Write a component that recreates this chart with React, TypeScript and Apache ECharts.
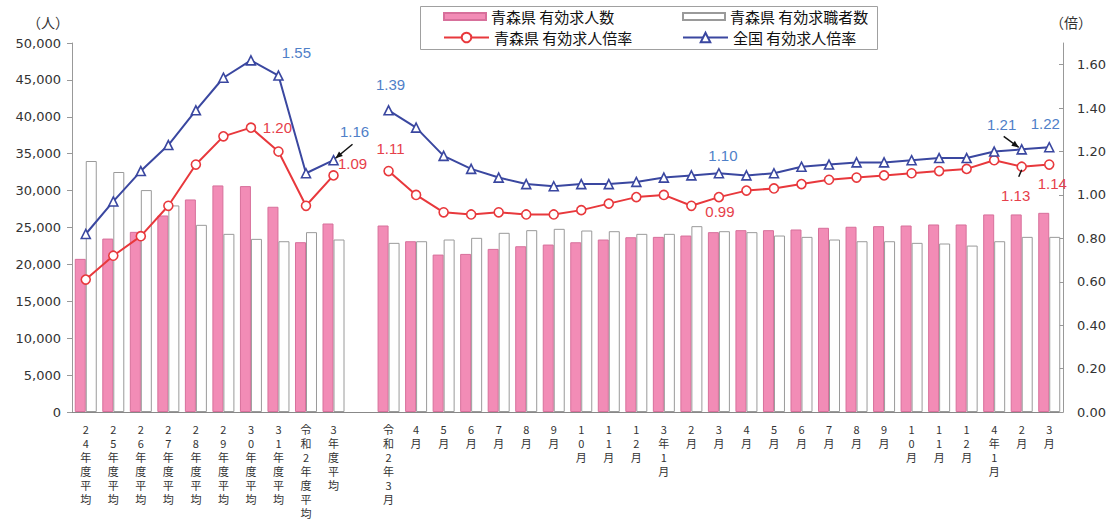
import React, { useEffect, useRef } from "react";
import * as echarts from "echarts";

// ---- data ----
const categories = [
  "24年度平均", "25年度平均", "26年度平均", "27年度平均", "28年度平均",
  "29年度平均", "30年度平均", "31年度平均", "令和2年度平均", "3年度平均",
  "",
  "令和2年3月", "4月", "5月", "6月", "7月", "8月", "9月", "10月", "11月", "12月",
  "3年1月", "2月", "3月", "4月", "5月", "6月", "7月", "8月", "9月", "10月", "11月", "12月",
  "4年1月", "2月", "3月",
];

// 青森県 有効求人数 (人)
const jobOffers = [
  20750, 23500, 24410, 26630, 28800, 30700, 30610, 27810, 23010, 25540,
  null,
  25270, 23140, 21330, 21420, 22100, 22460, 22690, 23000, 23370, 23680,
  23730, 23910, 24370, 24640, 24640, 24730, 24960, 25100, 25180, 25270, 25410, 25410,
  26770, 26770, 26990,
];

// 青森県 有効求職者数 (人)
const jobSeekers = [
  34010, 32520, 30070, 27990, 25360, 24140, 23460, 23140, 24370, 23370,
  null,
  22920, 23140, 23370, 23600, 24280, 24640, 24820, 24590, 24500, 24140,
  24140, 25180, 24500, 24370, 23910, 23730, 23370, 23140, 23140, 22920, 22830, 22550,
  23140, 23730, 23730,
];

// 青森県 有効求人倍率 (倍)
const aomoriRatio = [
  0.61, 0.72, 0.81, 0.95, 1.14, 1.27, 1.31, 1.20, 0.95, 1.09,
  null,
  1.11, 1.00, 0.92, 0.91, 0.92, 0.91, 0.91, 0.93, 0.96, 0.99,
  1.00, 0.95, 0.99, 1.02, 1.03, 1.05, 1.07, 1.08, 1.09, 1.10, 1.11, 1.12,
  1.16, 1.13, 1.14,
];

// 全国 有効求人倍率 (倍)
const nationalRatio = [
  0.82, 0.97, 1.11, 1.23, 1.39, 1.54, 1.62, 1.55, 1.10, 1.16,
  null,
  1.39, 1.31, 1.18, 1.12, 1.08, 1.05, 1.04, 1.05, 1.05, 1.06,
  1.08, 1.09, 1.10, 1.09, 1.10, 1.13, 1.14, 1.15, 1.15, 1.16, 1.17, 1.17,
  1.20, 1.21, 1.22,
];

const seriesNames = [
  "青森県 有効求人数",
  "青森県 有効求職者数",
  "青森県 有効求人倍率",
  "全国 有効求人倍率",
];

// indices of labelled points
const aomoriLabelIdx = [7, 9, 11, 23, 34, 35];
const nationalLabelIdx = [7, 9, 11, 23, 34, 35];

// ---- styling ----
const PINK = "#F28CB6";
const PINK_BORDER = "#D7709B";
const RED = "#E8383C";
const BLUE = "#3A47A0";
const RED_LABEL = "#E6404A";
const BLUE_LABEL = "#4F80C8";
const NUM_FONT = "'Liberation Sans', Arial, sans-serif";
const AXIS_FONT = "'DejaVu Sans', sans-serif";
const CJK_FONT = "'Noto Sans CJK JP', sans-serif";

// label offsets (label centre relative to the point), pixel styling only
const aomoriLabelOffset: Record<number, [number, number]> = {
  7: [-1, -24], 9: [19, -12], 11: [2, -23], 23: [1, 14], 34: [-6, 29], 35: [3, 19],
};
const nationalLabelOffset: Record<number, [number, number]> = {
  7: [18, -23], 9: [21, -29], 11: [2, -26], 23: [4, -18], 34: [-20, -25], 35: [-4, -24],
};

function buildLineData(
  vals: (number | null)[],
  idxs: number[],
  offsets: Record<number, [number, number]>,
  color: string
) {
  return vals.map((v, i) => {
    if (v !== null && idxs.indexOf(i) >= 0) {
      return {
        value: v,
        label: {
          show: true,
          position: "inside",
          offset: offsets[i],
          formatter: (p: any) => Number(p.value).toFixed(2),
          color,
          fontSize: 15,
          fontFamily: NUM_FONT,
        },
      };
    }
    return v;
  });
}

export default function App() {
  const ref = useRef<HTMLDivElement>(null);

  useEffect(() => {
    if (!ref.current) return;
    const chart = echarts.init(ref.current, undefined, { renderer: "svg" });

    const legendCommon = {
      orient: "horizontal",
      padding: 0,
      selectedMode: false,
      textStyle: { fontSize: 15, fontFamily: CJK_FONT, color: "#111" },
    };

    const option: any = {
      animation: false,
      backgroundColor: "#fff",
      grid: { left: 72, right: 50, top: 43, bottom: 113, containLabel: false },
      legend: [
        { ...legendCommon, data: [{ name: seriesNames[0], icon: "rect" }], left: 443, top: 9, itemWidth: 42, itemHeight: 7 },
        { ...legendCommon, data: [{ name: seriesNames[1], icon: "rect" }], left: 682, top: 9, itemWidth: 42, itemHeight: 7 },
        { ...legendCommon, data: [seriesNames[2]], left: 443, top: 30, itemWidth: 45, itemHeight: 12 },
        { ...legendCommon, data: [seriesNames[3]], left: 682, top: 30, itemWidth: 45, itemHeight: 12 },
      ],
      xAxis: {
        type: "category",
        data: categories,
        axisLine: { lineStyle: { color: "#888", width: 1 } },
        axisTick: { show: false },
        axisLabel: {
          interval: 0,
          margin: 10,
          fontSize: 11,
          lineHeight: 14,
          color: "#333",
          fontFamily: CJK_FONT,
          verticalAlign: "top",
          formatter: (v: string) => v.split("").join("\n"),
        },
      },
      yAxis: [
        {
          type: "value",
          min: 0,
          max: 50000,
          interval: 5000,
          position: "left",
          axisLine: { show: true, lineStyle: { color: "#999" } },
          axisTick: { show: true, inside: false, length: 5, lineStyle: { color: "#999" } },
          splitLine: { show: false },
          axisLabel: {
            margin: 11,
            fontSize: 13,
            color: "#333",
            fontFamily: AXIS_FONT,
            formatter: (v: number) => v.toLocaleString("en-US"),
          },
        },
        {
          type: "value",
          min: 0,
          max: 1.7,
          interval: 0.2,
          position: "right",
          axisLine: { show: true, lineStyle: { color: "#999" } },
          axisTick: { show: true, inside: true, length: 4, lineStyle: { color: "#999" } },
          splitLine: { show: false },
          axisLabel: {
            margin: 14,
            fontSize: 13,
            color: "#333",
            fontFamily: AXIS_FONT,
            showMaxLabel: false,
            formatter: (v: number) => (v > 1.65 ? "" : v.toFixed(2)),
          },
        },
      ],
      series: [
        {
          name: seriesNames[0],
          type: "bar",
          yAxisIndex: 0,
          data: jobOffers,
          barWidth: 11,
          barGap: "0%",
          itemStyle: { color: PINK, borderColor: PINK_BORDER, borderWidth: 1 },
        },
        {
          name: seriesNames[1],
          type: "bar",
          yAxisIndex: 0,
          data: jobSeekers,
          barWidth: 11,
          barGap: "0%",
          itemStyle: { color: "#fff", borderColor: "#9a9a9a", borderWidth: 1 },
        },
        {
          name: seriesNames[2],
          type: "line",
          yAxisIndex: 1,
          data: buildLineData(aomoriRatio, aomoriLabelIdx, aomoriLabelOffset, RED_LABEL),
          symbol: "circle",
          symbolSize: 9,
          showAllSymbol: true,
          connectNulls: false,
          lineStyle: { color: RED, width: 2 },
          itemStyle: { color: "#fff", borderColor: RED, borderWidth: 1.6 },
          z: 5,
        },
        {
          name: seriesNames[3],
          type: "line",
          yAxisIndex: 1,
          data: buildLineData(nationalRatio, nationalLabelIdx, nationalLabelOffset, BLUE_LABEL),
          symbol: "triangle",
          symbolSize: 9,
          showAllSymbol: true,
          connectNulls: false,
          lineStyle: { color: BLUE, width: 2 },
          itemStyle: { color: "#fff", borderColor: BLUE, borderWidth: 1.6 },
          z: 6,
        },
      ],
    };

    chart.setOption(option);

    // annotation arrows, anchored to data points via the chart's own scales
    const arrows = [
      { series: 3, idx: 9, from: [19, -16], to: [2, -2], head: true },
      { series: 3, idx: 34, from: [-18, -13], to: [-3, -2], head: true },
      { series: 2, idx: 34, from: [-3, 10], to: [0, 3], head: false },
    ];
    const graphics: any[] = [
      {
        type: "rect",
        shape: { x: 420.5, y: 6.5, width: 457, height: 43 },
        style: { fill: "none", stroke: "#a0a0a0", lineWidth: 1 },
        silent: true,
      },
      {
        type: "text",
        x: 48,
        y: 22,
        style: { text: "（人）", fontSize: 14, fontFamily: CJK_FONT, fill: "#333", align: "center", verticalAlign: "middle" },
      },
      {
        type: "text",
        x: 1071,
        y: 22,
        style: { text: "（倍）", fontSize: 14, fontFamily: CJK_FONT, fill: "#333", align: "center", verticalAlign: "middle" },
      },
    ];
    const seriesData = [jobOffers, jobSeekers, aomoriRatio, nationalRatio];
    arrows.forEach((a) => {
      const val = seriesData[a.series][a.idx];
      const p = chart.convertToPixel({ seriesIndex: a.series }, [a.idx, val as number]) as number[];
      if (!p) return;
      const x1 = p[0] + a.from[0];
      const y1 = p[1] + a.from[1];
      const x2 = p[0] + a.to[0];
      const y2 = p[1] + a.to[1];
      graphics.push({
        type: "line",
        shape: { x1, y1, x2, y2 },
        style: { stroke: "#111", lineWidth: 1.5 },
        z: 20,
      });
      if (a.head) {
        const ang = Math.atan2(y2 - y1, x2 - x1);
        const L = 7;
        const W = 3;
        const bx = x2 - L * Math.cos(ang);
        const by = y2 - L * Math.sin(ang);
        graphics.push({
          type: "polygon",
          shape: {
            points: [
              [x2, y2],
              [bx + W * Math.sin(ang), by - W * Math.cos(ang)],
              [bx - W * Math.sin(ang), by + W * Math.cos(ang)],
            ],
          },
          style: { fill: "#111" },
          z: 20,
        });
      }
    });
    chart.setOption({ graphic: graphics });

    return () => chart.dispose();
  }, []);

  return (
    <div
      ref={ref}
      style={{ position: "fixed", left: 0, top: 0, width: 1113, height: 525, background: "#fff" }}
    />
  );
}
